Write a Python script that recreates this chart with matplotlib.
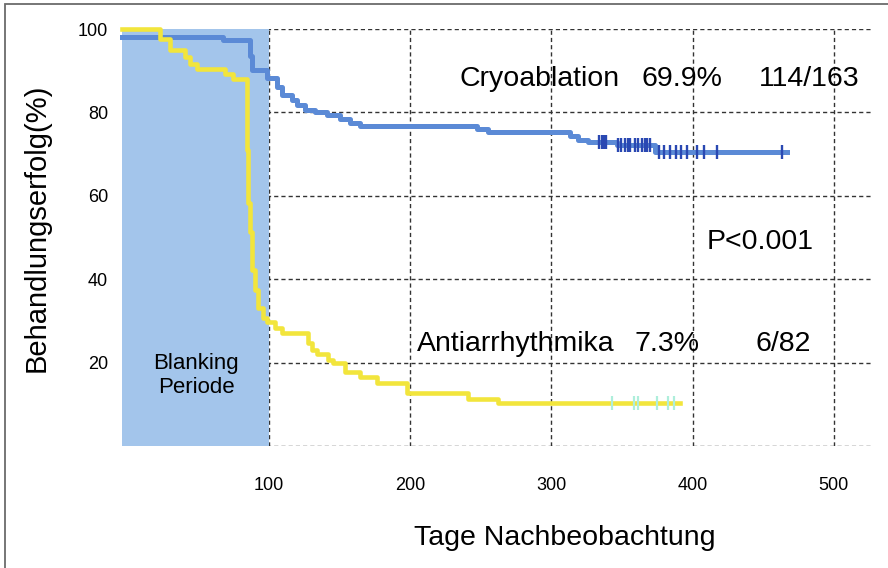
import matplotlib
matplotlib.use('Agg')
import matplotlib.pyplot as plt
from matplotlib.patches import Rectangle

plt.rcParams['font.family'] = ['Liberation Sans', 'DejaVu Sans']

# Kaplan-Meier steps (days, % event free)
cryo_t = [0, 67.4, 86.5, 88, 98.6, 105.7, 109.2, 116.3, 119.9, 125.5, 132.6, 141.1,
          150.3, 157.3, 164.4, 247.4, 255, 313.2, 318.9, 325.9, 346.5, 373.4, 467]
cryo_s = [98.2, 97.4, 93.5, 90.2, 88.2, 86.2, 84.2, 83.0, 81.8, 80.6, 80.0, 79.4,
          78.3, 77.4, 76.8, 75.9, 75.2, 74.4, 73.4, 72.8, 72.2, 70.4, 70.4]
cryo_cens = [334, 335.5, 337, 339, 347, 349, 352, 354, 356, 359, 361, 364, 366, 368,
             370, 376, 380, 384, 388, 392, 396, 403, 408, 417, 463]

aad_t = [0, 22.8, 29.9, 40.5, 44, 49, 68.8, 74.5, 84.5, 85.3, 86.5, 87.8, 90.1, 92.4,
         95.8, 98.6, 104.2, 109.2, 127.6, 130.4, 134, 141.8, 145.3, 153.8, 164.4,
         176.5, 197.7, 240.9, 262.1, 391]
aad_s = [100, 97.5, 95, 93.2, 91.6, 90.5, 89.2, 88.1, 71.0, 58.3, 51.3, 42.2, 37.4, 33.1,
         30.7, 29.8, 28.2, 27.0, 24.6, 23.0, 22.1, 20.6, 19.8, 17.8, 16.6,
         15.0, 12.6, 11.3, 10.2, 10.2]
aad_cens = [343, 358.7, 361.5, 374.9, 382.7, 387]

blank_end = 100
xticks = [100, 200, 300, 400, 500]
yticks = [0, 20, 40, 60, 80, 100]
x_lo, x_hi = -4, 527


def surv_at(t, times, surv):
    # value of the step curve at time t
    val = surv[0]
    for ti, si in zip(times, surv):
        if ti <= t:
            val = si
    return val


fig = plt.figure(figsize=(8.88, 5.68), dpi=100)
ax = fig.add_axes([122 / 888, 1 - 446 / 568, 750 / 888, 417 / 568])

# thin frame of the screenshot (top and left only)
fig.patches.append(Rectangle((5 / 888, -0.1), 1.2, 1.1 - 4 / 568, transform=fig.transFigure,
                             fill=False, edgecolor='#6b6b6b', linewidth=1.3))

ax.axvspan(x_lo, blank_end, color='#a3c5eb', zorder=1, lw=0)

ax.step([x_lo] + cryo_t[1:], cryo_s, where='post', color='#5b8ad6', lw=3.6,
        zorder=3, clip_on=False)
ax.step([x_lo] + aad_t[1:], aad_s, where='post', color='#f2e53c', lw=3.3,
        zorder=4, clip_on=False)

ax.plot(cryo_cens, [surv_at(t, cryo_t, cryo_s) for t in cryo_cens], ls='none',
        marker='|', ms=10, mew=1.7, color='#2a48b2', zorder=5)
ax.plot(aad_cens, [surv_at(t, aad_t, aad_s) for t in aad_cens], ls='none',
        marker='|', ms=10, mew=1.6, color='#aeeedb', zorder=5)

ax.set_xlim(x_lo, x_hi)
ax.set_ylim(0, 100)
ax.set_xticks(xticks)
ax.set_yticks(yticks)
ax.set_yticklabels([''] + [str(v) for v in yticks[1:]])
ax.grid(True, color='#333333', ls=(0, (3, 2.2)), lw=1.0)
ax.set_axisbelow(True)
for sp in ax.spines.values():
    sp.set_visible(False)
ax.tick_params(length=0, labelsize=13)
ax.tick_params(axis='y', pad=10)
ax.tick_params(axis='x', pad=22)

ax.set_xlabel('Tage Nachbeobachtung', fontsize=20.5, va='center')
ax.xaxis.set_label_coords((565 - 122) / 750, (446 - 538) / 417)
ax.set_ylabel('Behandlungserfolg(%)', fontsize=21, va='center')
ax.yaxis.set_label_coords((37 - 122) / 750, (446 - 228) / 417)

txt = dict(fontsize=20.5, va='center', ha='center', zorder=6)
ax.text(291.9, 88.0, 'Cryoablation', **txt)
ax.text(392.7, 88.0, '69.9%', **txt)
ax.text(482.3, 88.0, '114/163', **txt)
ax.text(448.0, 48.9, 'P<0.001', **txt)
ax.text(274.9, 24.5, 'Antiarrhythmika', **txt)
ax.text(381.8, 24.5, '7.3%', **txt)
ax.text(464.2, 24.5, '6/82', **txt)
ax.text(48.4, 17.0, 'Blanking\nPeriode', fontsize=16, ha='center', va='center',
        linespacing=1.2, zorder=6)

fig.savefig('out.png', dpi=100)
